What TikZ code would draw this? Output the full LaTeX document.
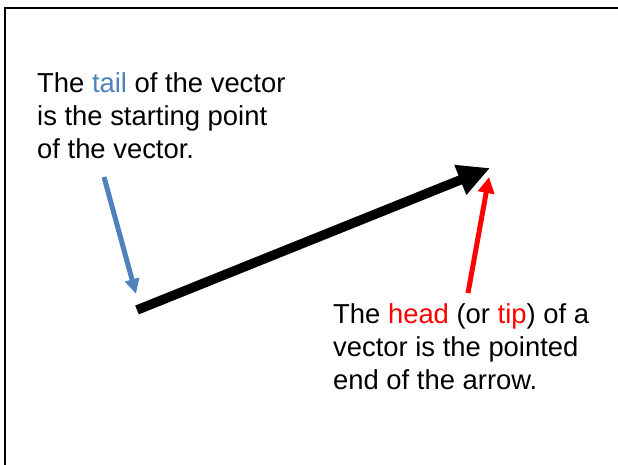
\documentclass[tikz,border=0pt]{standalone}
\usepackage{fontspec}
\setmainfont{Liberation Sans}
\usetikzlibrary{arrows.meta}
\definecolor{tailblue}{RGB}{79,129,189}
\tikzset{note/.style={anchor=north west,inner sep=0pt,align=left,font=\fontsize{27.4}{33}\selectfont},
pointer/.style={line width=5pt}}

\begin{document}
\begin{tikzpicture}[x=1pt,y=-1pt]
\useasboundingbox(0,0)rectangle(618,465);
\draw[line width=2.5pt](4,8)--(618,8);\draw[line width=2.5pt](5,7)--(5,465);
\node[note](tailtext)at(37,72){The \textcolor{tailblue}{tail} of the vector\\is the starting point\\of the vector.};
\node[note](headtext)at(333,303){The \textcolor{red}{head} (or \textcolor{red}{tip}) of a\\vector is the pointed\\end of the arrow.};
\coordinate(vtail)at(137,310);\coordinate(vhead)at(490,168);
\draw[line width=9.5pt,-{Triangle[length=32pt,width=30pt]}](vtail)--(vhead);
\coordinate(tailfrom)at(104,177);\coordinate(headfrom)at(468,293);
\draw[pointer,tailblue,-{Triangle[length=15pt,width=14pt]}](tailfrom)--(136,294);
\draw[pointer,red,-{Triangle[length=16pt,width=16pt]}](headfrom)--(489,177);
\end{tikzpicture}
\end{document}
